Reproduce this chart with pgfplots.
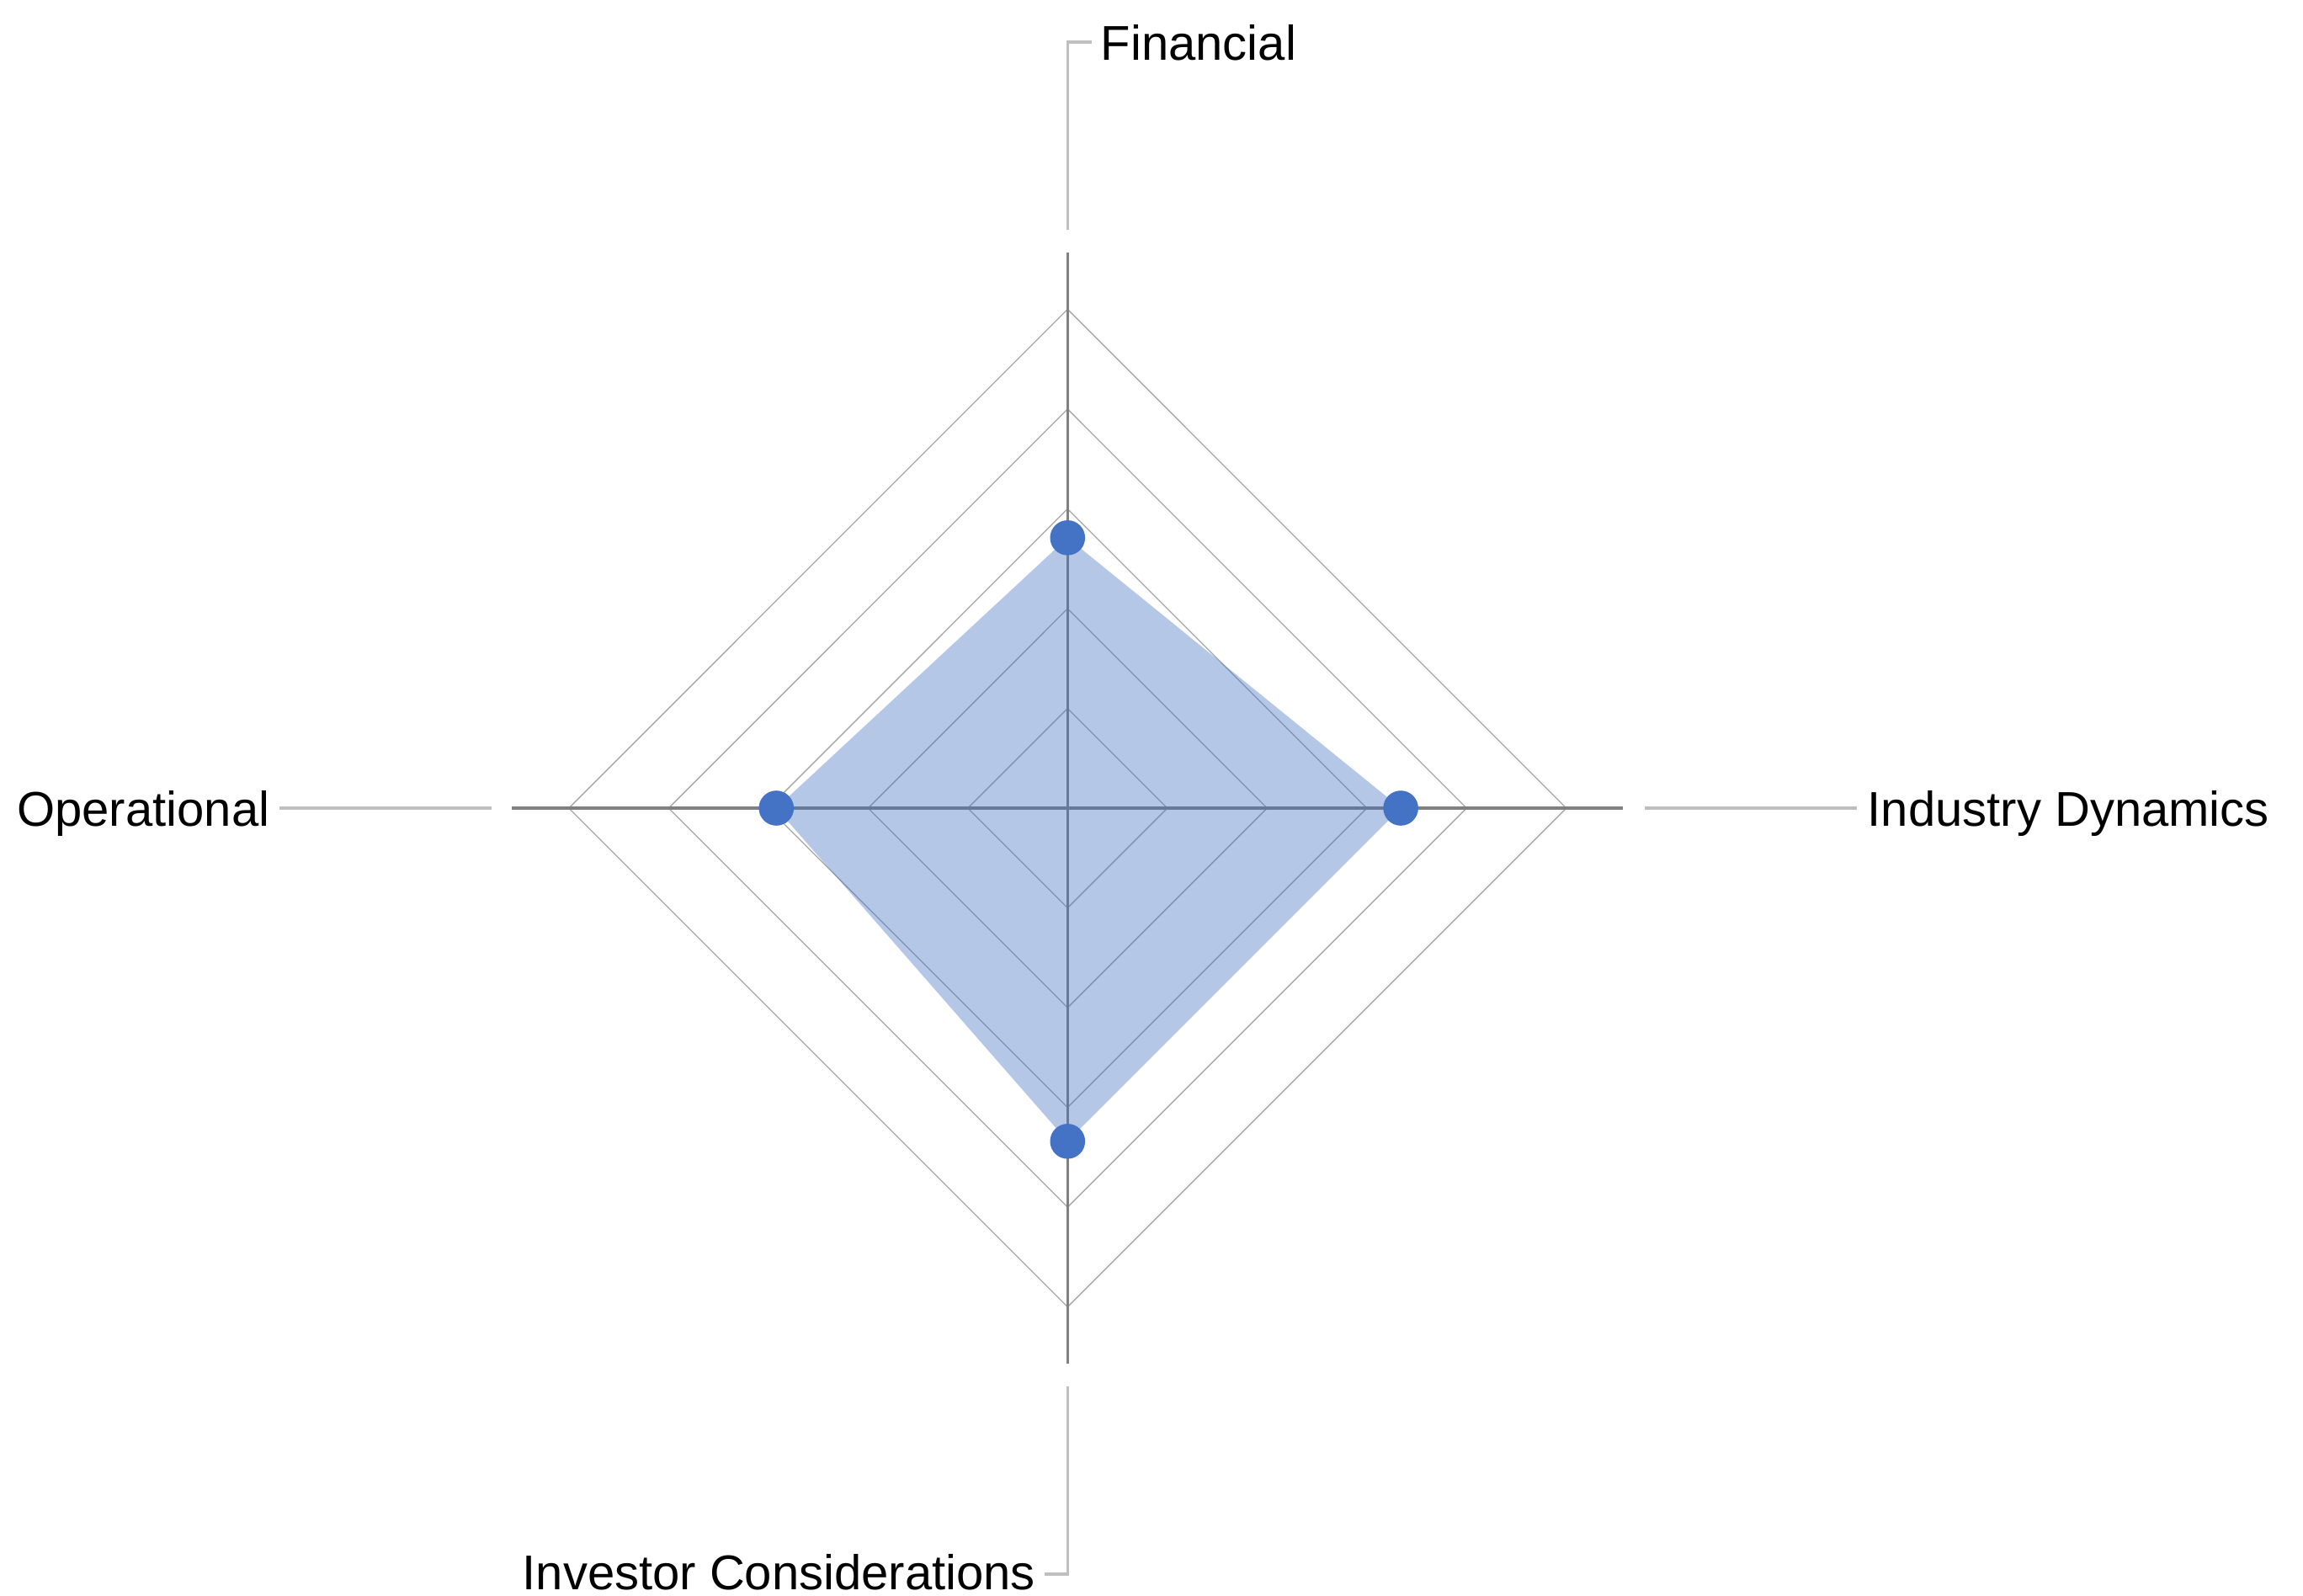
\documentclass[border=0pt]{standalone}
\usepackage{pgfplots}
\pgfplotsset{compat=1.18}
\usepackage{fontspec}
\setmainfont{Liberation Sans}
\definecolor{serblue}{HTML}{4472C4}
\definecolor{spoke}{HTML}{808080}
\definecolor{gridc}{HTML}{A6A6A6}
\definecolor{callc}{HTML}{BFBFBF}
\begin{document}
\begin{tikzpicture}
\begin{axis}[hide axis, scale only axis, width=684pt, height=473.75pt,
  xmin=-10.703, xmax=12.386, ymin=-7.890, ymax=8.101, clip=false]
% grid diamonds
\addplot[gridc, line width=0.33pt, line join=miter] coordinates {(0,1) (1,0) (0,-1) (-1,0) (0,1)};
\addplot[gridc, line width=0.33pt, line join=miter] coordinates {(0,2) (2,0) (0,-2) (-2,0) (0,2)};
\addplot[gridc, line width=0.33pt, line join=miter] coordinates {(0,3) (3,0) (0,-3) (-3,0) (0,3)};
\addplot[gridc, line width=0.33pt, line join=miter] coordinates {(0,4) (4,0) (0,-4) (-4,0) (0,4)};
\addplot[gridc, line width=0.33pt, line join=miter] coordinates {(0,5) (5,0) (0,-5) (-5,0) (0,5)};
% spokes
\addplot[spoke, line width=0.9pt] coordinates {(0,0) (0,5.57)};
\addplot[spoke, line width=0.9pt] coordinates {(0,0) (5.57,0)};
\addplot[spoke, line width=0.9pt] coordinates {(0,0) (0,-5.57)};
\addplot[spoke, line width=0.9pt] coordinates {(0,0) (-5.57,0)};
% callout lines
\addplot[callc, line width=0.8pt] coordinates {(0,5.797) (0,7.679) (0.242,7.679)};
\addplot[callc, line width=0.8pt] coordinates {(5.787,0) (7.917,0)};
\addplot[callc, line width=0.8pt] coordinates {(-5.777,0) (-7.904,0)};
\addplot[callc, line width=0.8pt] coordinates {(0,-5.795) (0,-7.679) (-0.23,-7.679)};
% data area
\addplot[draw=none, fill=serblue, fill opacity=0.4] coordinates {(0,2.71) (3.34,0) (0,-3.34) (-2.92,0) (0,2.71)};
\addplot[only marks, mark=*, mark size=5pt, mark options={draw=serblue, fill=serblue}] coordinates {(0,2.71) (3.34,0) (0,-3.34) (-2.92,0)};
% labels
\node[anchor=base west, inner sep=0, font=\fontsize{14.5}{17}\selectfont] at (axis cs:0.327,7.494) {Financial};
\node[anchor=base west, inner sep=0, font=\fontsize{14.5}{17}\selectfont] at (axis cs:8.014,-0.183) {Industry Dynamics};
\node[anchor=base east, inner sep=0, font=\fontsize{14.5}{17}\selectfont] at (axis cs:-7.994,-0.183) {Operational};
\node[anchor=base east, inner sep=0, font=\fontsize{14.5}{17}\selectfont] at (axis cs:-0.316,-7.835) {Investor Considerations};
\end{axis}
\pgfresetboundingbox
\path (current axis.south west) rectangle (current axis.north east);
\end{tikzpicture}
\end{document}
